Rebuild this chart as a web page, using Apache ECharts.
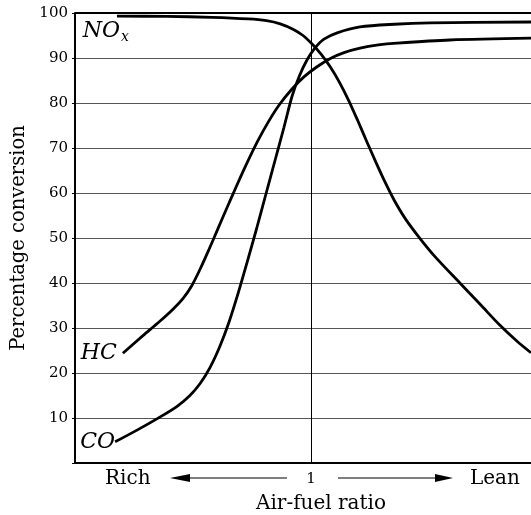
<!DOCTYPE html>
<html>
<head>
<meta charset="utf-8">
<script src="https://cdn.jsdelivr.net/npm/echarts@6/dist/echarts.min.js"></script>
<style>html,body{margin:0;padding:0;background:#fff}#c{width:531px;height:515px}</style>
</head>
<body>
<div id="c"></div>
<script>
// x: arbitrary air-fuel scale 0..100, stoichiometric ratio (=1) at 51.75
const stoich = 51.75;
const yTicks = [10, 20, 30, 40, 50, 60, 70, 80, 90, 100];
const noxData = [[9.2,99.3],[20,99.25],[30,99.05],[38,98.7],[42,98.3],[45,97.6],[47.8,96.4],[50,95],[52,93.1],[54,90.8],[56,88],[58,84.6],[60,80.6],[62,76.1],[64,71.4],[66,66.8],[68,62.4],[70,58.4],[72.5,54.2],[75.5,50.1],[79,45.8],[84.4,40],[89,35.1],[93.2,30.6],[97,27],[100,24.5]];
const hcData = [[10.5,24.4],[14.9,28.3],[18.6,31.5],[21.6,34.3],[23.8,36.7],[25.6,39.4],[27.4,43],[29.4,47.5],[31.4,52.2],[33.4,56.9],[35.4,61.5],[37.6,66.4],[40,71.4],[42.4,75.8],[44.8,79.6],[47.4,82.9],[50.2,85.8],[53,88],[56,89.9],[59,91.2],[62.5,92.2],[66.5,92.9],[70.6,93.3],[82.2,94],[100,94.4]];
const coData = [[8.8,4.7],[13.6,7.3],[18.6,10.2],[22.4,12.6],[25.2,15],[27.4,17.6],[29.6,21.2],[31.8,26],[33.8,31.4],[35.8,37.8],[37.8,44.8],[39.8,52],[41.8,59.5],[43.8,67],[45.8,74.5],[47.6,81.5],[49.2,86],[50.9,89.6],[52.6,92.2],[54.6,94.2],[57.5,95.6],[62.5,96.9],[70,97.5],[77.9,97.8],[100,98]];

const serif = 'DejaVu Serif';
const labelRich = {
  a: { fontFamily: serif, fontStyle: 'italic', fontSize: 22, color: '#000' },
  b: { fontFamily: serif, fontStyle: 'italic', fontSize: 14, color: '#000', padding: [12, 0, 0, 1] }
};
function nameMark(data, fmt, offset, dist) {
  return {
    silent: true, symbol: 'circle', symbolSize: 0,
    itemStyle: { color: 'transparent' },
    label: { show: true, position: 'left', distance: dist, offset: offset, formatter: fmt, rich: labelRich },
    data: [{ coord: data[0] }]
  };
}

const chart = echarts.init(document.getElementById('c'));
const lineStyle = { color: '#000', width: 2.8 };
chart.setOption({
  animation: false,
  grid: { left: 75, right: 0, top: 13, bottom: 52, outerBoundsMode: 'none', containLabel: false },
  xAxis: {
    type: 'value', min: 0, max: 100,
    axisLine: { show: true, lineStyle: { color: '#000', width: 2 } },
    axisTick: { show: false }, axisLabel: { show: false }, splitLine: { show: false }
  },
  yAxis: {
    type: 'value', min: 0, max: 100, interval: 10,
    name: 'Percentage conversion', nameLocation: 'middle', nameGap: 46,
    nameTextStyle: { fontFamily: serif, fontSize: 19.5, color: '#000' },
    axisLine: { show: true, lineStyle: { color: '#000', width: 2 } },
    axisTick: { show: true, length: 3, lineStyle: { color: '#000' } },
    axisLabel: { fontFamily: serif, fontSize: 15, color: '#000', margin: 7,
                 formatter: v => (yTicks.indexOf(v) >= 0 ? String(v) : '') },
    splitLine: { show: true, lineStyle: { color: '#555', width: 1 } }
  },
  series: [
    { type: 'line', name: 'NOx', data: noxData,
      smooth: 0.3, showSymbol: false, symbol: 'none', lineStyle: lineStyle,
      markPoint: nameMark(noxData, '{a|NO}{b|x}', [12, 15], 0),
      markLine: { silent: true, symbol: 'none', label: { show: false },
                  lineStyle: { color: '#000', width: 1, type: 'solid' },
                  data: [{ xAxis: stoich }] } },
    { type: 'line', name: 'HC', data: hcData,
      smooth: 0.3, showSymbol: false, symbol: 'none', lineStyle: lineStyle,
      markPoint: nameMark(hcData, '{a|HC}', [0, 0], 6) },
    { type: 'line', name: 'CO', data: coData,
      smooth: 0.3, showSymbol: false, symbol: 'none', lineStyle: lineStyle,
      markPoint: nameMark(coData, '{a|CO}', [0, 0], 0) },
    { type: 'line', data: [], markLine: { silent: true, symbol: 'none', label: { show: false },
      lineStyle: { color: '#000', width: 2, type: 'solid' }, data: [{ yAxis: 100 }] } }
  ],
  graphic: [
    { type: 'text', x: 105, y: 479, style: { text: 'Rich', font: '20px "DejaVu Serif"', fill: '#000', verticalAlign: 'middle' } },
    { type: 'line', shape: { x1: 188, y1: 478, x2: 287, y2: 478 }, style: { stroke: '#000', lineWidth: 1.2 } },
    { type: 'polygon', shape: { points: [[170, 478], [190, 474], [190, 482]] }, style: { fill: '#000' } },
    { type: 'text', x: 311, y: 479, style: { text: '1', font: '15px "DejaVu Serif"', fill: '#000', align: 'center', verticalAlign: 'middle' } },
    { type: 'line', shape: { x1: 338, y1: 478, x2: 437, y2: 478 }, style: { stroke: '#000', lineWidth: 1.2 } },
    { type: 'polygon', shape: { points: [[453, 478], [435, 474], [435, 482]] }, style: { fill: '#000' } },
    { type: 'text', x: 470, y: 479, style: { text: 'Lean', font: '20px "DejaVu Serif"', fill: '#000', verticalAlign: 'middle' } },
    { type: 'text', x: 321, y: 504, style: { text: 'Air-fuel ratio', font: '20px "DejaVu Serif"', fill: '#000', align: 'center', verticalAlign: 'middle' } }
  ]
});
</script>
</body>
</html>
